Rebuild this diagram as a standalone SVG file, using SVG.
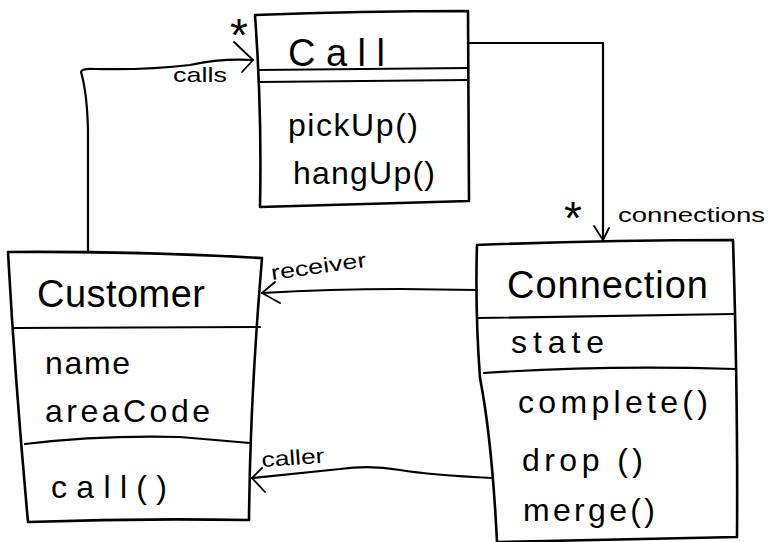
<svg xmlns="http://www.w3.org/2000/svg" width="774" height="542" viewBox="0 0 774 542">
<style>
.box{fill:none;stroke:#000;stroke-width:2.6;stroke-linejoin:round;stroke-linecap:round}
.div{fill:none;stroke:#000;stroke-width:2.2;stroke-linecap:round}
.ln{fill:none;stroke:#000;stroke-width:2.2;stroke-linejoin:round;stroke-linecap:round}
.arr{fill:none;stroke:#000;stroke-width:1.8;stroke-linecap:round;stroke-linejoin:round}
.t{font-family:"Liberation Sans",Arial,sans-serif;fill:#000}
.big{font-size:38px}
.mid{font-size:32px}
.sm{font-size:21px}
.star{font-family:"Liberation Sans",Arial,sans-serif;font-size:46px}
</style>
<rect width="774" height="542" fill="#fff"/>
<g id="connectors">
<path class="ln" d="M88,252 L88,130 Q87,92 81,72 Q82,68 95,69 Q150,70 190,65 Q222,58 253,60"/>
<path class="arr" d="M234,42 L253,60 L242,72"/>
<text class="t sm" x="173" y="82" textLength="54" lengthAdjust="spacingAndGlyphs">calls</text>
<text class="star" x="230" y="51">*</text>
<path class="ln" d="M469,43 L603,43 L603,238"/>
<path class="arr" d="M594,226 L603,240 L609,228"/>
<text class="star" x="564" y="234">*</text>
<text class="t sm" x="618" y="222" textLength="147" lengthAdjust="spacingAndGlyphs">connections</text>
<path class="ln" d="M477,290 L400,289 Q330,289 262,293"/>
<path class="arr" d="M275,282 L262,293 L280,303"/>
<text class="t sm" x="272" y="280" textLength="96" lengthAdjust="spacingAndGlyphs" transform="rotate(-8 272 280)">receiver</text>
<path class="ln" d="M493,478 Q430,475 400,470 Q370,465 340,469 Q290,474 252,478"/>
<path class="arr" d="M262,468 L252,478 L265,492"/>
<text class="t sm" x="262" y="467" textLength="63" lengthAdjust="spacingAndGlyphs" transform="rotate(-4 262 467)">caller</text>
</g>
<g id="call">
<path class="box" d="M255,15 Q360,11 468,11 L469,201 Q360,204 260,207 Q262,110 255,15 Z"/>
<path class="div" d="M258,70 L468,68"/>
<path class="div" d="M259,82 L468,80"/>
<text class="t big" x="288" y="66" textLength="97" lengthAdjust="spacing">Call</text>
<text class="t mid" x="288" y="136" textLength="130" lengthAdjust="spacing">pickUp()</text>
<text class="t mid" x="293" y="184" textLength="142" lengthAdjust="spacing">hangUp()</text>
</g>
<g id="customer">
<path class="box" d="M8,252 Q130,251 262,258 Q250,400 249,520 Q140,518 28,522 Q15,380 8,252 Z"/>
<path class="div" d="M13,328 L260,327"/>
<path class="div" d="M25,444 Q100,435 180,437 Q215,440 250,443"/>
<text class="t big" x="37" y="307" textLength="168" lengthAdjust="spacing">Customer</text>
<text class="t mid" x="45" y="374" textLength="85" lengthAdjust="spacing">name</text>
<text class="t mid" x="45" y="422" textLength="165" lengthAdjust="spacing">areaCode</text>
<text class="t mid" x="51" y="498" textLength="116" lengthAdjust="spacing">call()</text>
</g>
<g id="connection">
<path class="box" d="M477,245 Q600,240 733,240 Q738,400 737,537 L497,542 Q492,440 480,378 Q475,310 477,245 Z"/>
<path class="div" d="M478,318 L733,314"/>
<path class="div" d="M484,373 Q600,365 735,369"/>
<text class="t big" x="507" y="298" textLength="201" lengthAdjust="spacing">Connection</text>
<text class="t mid" x="511" y="353" textLength="93" lengthAdjust="spacing">state</text>
<text class="t mid" x="518" y="413" textLength="190" lengthAdjust="spacing">complete()</text>
<text class="t mid" x="522" y="471" textLength="121" lengthAdjust="spacing">drop ()</text>
<text class="t mid" x="523" y="521" textLength="132" lengthAdjust="spacing">merge()</text>
</g>
</svg>
